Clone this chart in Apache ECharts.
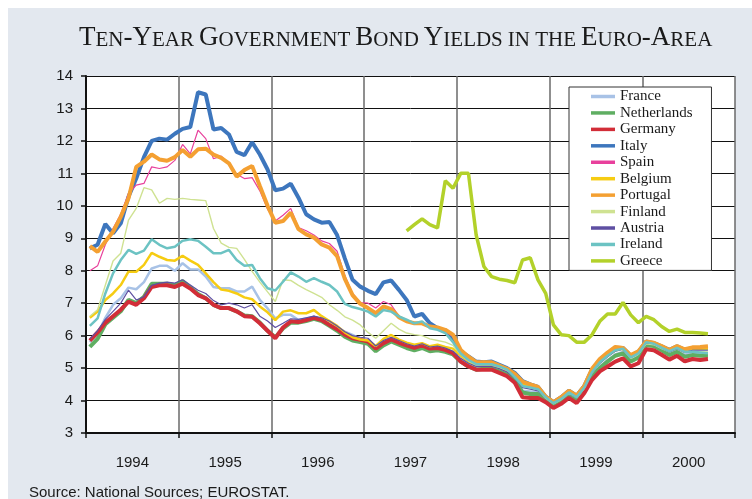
<!DOCTYPE html>
<html><head><meta charset="utf-8">
<script src="https://cdn.jsdelivr.net/npm/echarts@6/dist/echarts.min.js"></script>
<style>
html,body{margin:0;padding:0;background:#fff;}
#panel{position:absolute;left:8px;top:8px;width:744px;height:491px;background:#e3e8ef;}
#chart{position:absolute;left:0;top:0;width:752px;height:499px;}
</style></head><body>
<div id="panel"></div><div id="chart"></div>
<script>
// Monthly 10-year yields, Jan 1994 .. Sep 2000
const startYear = 1994;
const yearLabels = ['1994','1995','1996','1997','1998','1999','2000'];
const yTicks = [3,4,5,6,7,8,9,10,11,12,13,14];

const france = [
 5.80,6.05,6.55,6.95,7.15,7.48,7.43,7.65,8.07,8.15,8.15,8.00,
 8.23,8.04,8.04,7.82,7.50,7.46,7.46,7.36,7.36,7.51,7.10,6.84,
 6.53,6.64,6.64,6.48,6.53,6.58,6.50,6.38,6.26,6.12,6.02,5.90,
 5.85,5.60,5.80,5.92,5.82,5.72,5.65,5.72,5.62,5.65,5.60,5.50,
 5.25,5.10,5.00,5.02,5.02,4.95,4.85,4.65,4.30,4.28,4.25,4.05,
 3.88,4.00,4.18,4.05,4.35,4.80,5.05,5.25,5.42,5.50,5.25,5.38,
 5.72,5.70,5.58,5.45,5.55,5.42,5.45,5.42,5.42];
const netherlands = [
 5.65,5.90,6.35,6.55,6.75,7.10,7.00,7.20,7.60,7.60,7.60,7.55,
 7.68,7.48,7.28,7.15,6.95,6.85,6.85,6.75,6.62,6.60,6.40,6.15,
 5.95,6.22,6.40,6.40,6.45,6.52,6.45,6.30,6.15,5.97,5.85,5.80,
 5.75,5.52,5.70,5.82,5.72,5.62,5.55,5.62,5.52,5.55,5.50,5.42,
 5.20,5.05,4.95,4.98,4.98,4.90,4.80,4.62,4.25,4.20,4.20,4.02,
 3.85,3.98,4.15,4.00,4.30,4.75,5.00,5.20,5.38,5.45,5.20,5.33,
 5.70,5.68,5.55,5.40,5.50,5.35,5.40,5.38,5.38];
const germany = [
 5.85,6.10,6.40,6.60,6.80,7.05,6.95,7.15,7.50,7.55,7.55,7.50,
 7.60,7.45,7.25,7.15,6.95,6.85,6.85,6.75,6.60,6.58,6.38,6.15,
 5.92,6.25,6.44,6.42,6.48,6.55,6.48,6.33,6.20,6.03,5.92,5.87,
 5.82,5.60,5.77,5.88,5.78,5.70,5.62,5.70,5.60,5.62,5.56,5.46,
 5.20,5.05,4.95,4.95,4.95,4.85,4.75,4.55,4.10,4.08,4.08,3.95,
 3.77,3.90,4.08,3.92,4.23,4.64,4.90,5.05,5.20,5.30,5.05,5.15,
 5.58,5.55,5.41,5.26,5.38,5.21,5.28,5.25,5.28];
const italy = [
 8.69,8.80,9.44,9.15,9.46,10.28,10.84,11.50,12.00,12.07,12.04,12.22,
 12.37,12.43,13.50,13.43,12.35,12.40,12.20,11.66,11.56,11.96,11.58,11.12,
 10.48,10.53,10.68,10.25,9.74,9.58,9.48,9.50,9.10,8.38,7.72,7.51,
 7.38,7.28,7.64,7.70,7.41,7.10,6.59,6.67,6.38,6.23,6.13,5.87,
 5.51,5.36,5.20,5.18,5.20,5.10,5.00,4.85,4.60,4.50,4.42,4.12,
 3.95,4.10,4.30,4.15,4.45,4.95,5.25,5.45,5.63,5.62,5.38,5.50,
 5.82,5.77,5.67,5.56,5.67,5.56,5.62,5.62,5.63];
const spain = [
 8.00,8.15,8.80,9.30,9.75,10.38,10.64,10.69,11.20,11.15,11.20,11.40,
 11.89,11.60,12.33,12.07,11.45,11.53,11.31,10.97,10.84,10.87,10.46,9.90,
 9.53,9.71,9.92,9.33,9.23,9.10,8.92,8.84,8.60,7.85,7.30,7.02,
 7.00,6.85,7.05,6.95,6.60,6.47,6.38,6.38,6.28,6.22,6.12,5.97,
 5.55,5.32,5.15,5.15,5.15,5.05,4.95,4.78,4.55,4.48,4.40,4.10,
 3.93,4.07,4.27,4.12,4.42,4.92,5.22,5.42,5.60,5.60,5.36,5.48,
 5.80,5.76,5.66,5.55,5.65,5.55,5.60,5.60,5.62];
const belgium = [
 6.55,6.74,7.10,7.30,7.56,7.97,7.97,8.18,8.55,8.43,8.33,8.31,
 8.46,8.31,8.18,7.92,7.65,7.42,7.38,7.30,7.18,7.12,6.90,6.72,
 6.48,6.74,6.78,6.69,6.69,6.79,6.60,6.45,6.30,6.10,5.95,5.88,
 5.85,5.68,5.90,6.02,5.88,5.78,5.72,5.77,5.67,5.72,5.65,5.60,
 5.38,5.20,5.08,5.08,5.10,5.02,4.92,4.75,4.50,4.45,4.40,4.12,
 3.95,4.08,4.27,4.12,4.42,4.92,5.22,5.42,5.60,5.60,5.38,5.50,
 5.80,5.76,5.66,5.55,5.66,5.55,5.60,5.60,5.60];
const portugal = [
 8.76,8.58,8.90,9.20,9.66,10.23,11.20,11.36,11.58,11.43,11.39,11.50,
 11.72,11.51,11.74,11.76,11.58,11.48,11.31,10.90,11.10,11.23,10.61,10.00,
 9.48,9.53,9.79,9.28,9.12,9.02,8.81,8.71,8.45,7.75,7.25,6.98,
 6.85,6.69,6.90,6.82,6.57,6.44,6.38,6.38,6.28,6.25,6.18,6.03,
 5.56,5.35,5.18,5.18,5.18,5.08,4.98,4.82,4.58,4.50,4.42,4.12,
 3.95,4.10,4.30,4.15,4.45,4.98,5.28,5.48,5.65,5.62,5.40,5.52,
 5.82,5.78,5.68,5.56,5.68,5.58,5.64,5.65,5.67];
const finland = [
 6.60,6.80,7.55,8.30,8.54,9.56,9.92,10.56,10.49,10.08,10.23,10.20,
 10.23,10.20,10.18,10.16,9.30,8.85,8.72,8.69,8.35,7.98,7.65,7.35,
 7.05,7.72,7.70,7.55,7.42,7.30,7.18,6.95,6.78,6.58,6.48,6.33,
 6.10,5.92,6.15,6.38,6.20,6.08,6.03,6.00,5.90,5.85,5.80,5.70,
 5.42,5.22,5.08,5.10,5.10,5.02,4.92,4.72,4.45,4.40,4.35,4.08,
 3.90,4.03,4.22,4.08,4.38,4.85,5.15,5.35,5.52,5.58,5.30,5.42,
 5.75,5.72,5.60,5.50,5.60,5.48,5.52,5.50,5.50];
const austria = [
 5.90,6.15,6.50,6.75,7.00,7.40,7.10,7.20,7.55,7.62,7.65,7.62,
 7.72,7.56,7.40,7.30,7.08,6.95,7.00,6.95,6.85,6.95,6.60,6.45,
 6.25,6.38,6.52,6.50,6.55,6.60,6.55,6.45,6.30,6.12,6.00,5.95,
 5.92,5.68,5.85,5.95,5.85,5.75,5.68,5.75,5.65,5.68,5.62,5.52,
 5.30,5.15,5.05,5.05,5.05,4.98,4.88,4.70,4.40,4.35,4.30,4.10,
 3.92,4.05,4.22,4.08,4.38,4.85,5.15,5.35,5.52,5.58,5.32,5.45,
 5.78,5.75,5.62,5.50,5.60,5.48,5.55,5.55,5.55];
const ireland = [
 6.30,6.53,7.30,7.92,8.33,8.64,8.52,8.62,8.97,8.80,8.69,8.74,
 8.92,8.97,8.92,8.74,8.54,8.54,8.64,8.33,8.15,8.18,7.77,7.46,
 7.39,7.66,7.95,7.82,7.66,7.77,7.66,7.56,7.36,6.98,6.88,6.82,
 6.74,6.59,6.79,6.74,6.59,6.49,6.38,6.44,6.23,6.18,6.08,5.80,
 5.45,5.25,5.12,5.12,5.12,5.05,4.95,4.72,4.45,4.40,4.35,4.10,
 3.92,4.05,4.25,4.10,4.40,4.88,5.18,5.38,5.55,5.60,5.33,5.45,
 5.80,5.75,5.63,5.52,5.62,5.50,5.50,5.48,5.46];
// Greece starts in June 1997 (month index 41)
const greeceStartIndex = 41;
const greece = [
 9.23,9.42,9.60,9.42,9.32,10.77,10.54,
 11.00,11.00,9.10,8.13,7.82,7.74,7.70,7.63,8.33,8.40,7.72,7.30,
 6.33,6.03,6.00,5.80,5.80,6.03,6.44,6.67,6.67,7.02,6.64,6.40,
 6.59,6.49,6.28,6.13,6.20,6.10,6.10,6.08,6.06];

const seriesDefs = [
  {name:'France', data:france, color:'#a8c2e6', width:2.5, offset:0},
  {name:'Netherlands', data:netherlands, color:'#5fae62', width:4, offset:0},
  {name:'Germany', data:germany, color:'#d22d38', width:4, offset:0},
  {name:'Italy', data:italy, color:'#3d76bd', width:4, offset:0},
  {name:'Spain', data:spain, color:'#e8409c', width:1.2, offset:0},
  {name:'Belgium', data:belgium, color:'#f6cc12', width:2.5, offset:0},
  {name:'Portugal', data:portugal, color:'#f4a032', width:4, offset:0},
  {name:'Finland', data:finland, color:'#cfe292', width:1.4, offset:0},
  {name:'Austria', data:austria, color:'#5e4fa2', width:1.2, offset:0},
  {name:'Ireland', data:ireland, color:'#6cc3c3', width:2.5, offset:0},
  {name:'Greece', data:greece, color:'#b3d12a', width:3.5, offset:greeceStartIndex}
];

function toPoints(arr, offset){
  return arr.map((v,i)=>[startYear + (i+offset+0.5)/12, v]);
}

const chart = echarts.init(document.getElementById('chart'), null, {renderer:'canvas'});
const serifFont = 'Liberation Serif, Times New Roman, serif';
const sansFont = 'Liberation Sans, Arial, sans-serif';

chart.setOption({
  backgroundColor:'transparent',
  animation:false,
  title:[{
    text:'{a|T}{b|EN}{a|-Y}{b|EAR} {a|G}{b|OVERNMENT} {a|B}{b|OND} {a|Y}{b|IELDS} {b|IN THE} {a|E}{b|URO}{a|-A}{b|REA}',
    left:79, top:24, padding:0,
    textStyle:{
      fontWeight:'normal',
      rich:{
        a:{fontFamily:serifFont, fontSize:27, fontWeight:'normal', color:'#1a1a1a', verticalAlign:'bottom'},
        b:{fontFamily:serifFont, fontSize:21, fontWeight:'normal', color:'#1a1a1a', verticalAlign:'bottom'}
      }
    }
  },{
    text:'Source: National Sources; EUROSTAT.',
    left:24, top:480,
    textStyle:{fontFamily:sansFont, fontSize:15, fontWeight:'normal', color:'#1a1a1a'}
  }],
  grid:{left:86, right:17, top:76, bottom:66, show:true, backgroundColor:'#ffffff', borderWidth:0, containLabel:false},
  legend:{
    data:seriesDefs.map(s=>({name:s.name, icon:'rect'})),
    orient:'vertical', left:569, top:87,
    backgroundColor:'#ffffff', borderColor:'#333', borderWidth:1,
    padding:[2,19,2,22],
    itemWidth:24, itemHeight:3.5, itemGap:1.44,
    textStyle:{fontFamily:serifFont, fontSize:15, color:'#1a1a1a', lineHeight:15},
    selectedMode:false
  },
  xAxis:[{
    type:'value', min:1994, max:2001, interval:1,
    axisLine:{show:true, lineStyle:{color:'#111', width:2}},
    axisTick:{show:true, length:5, lineStyle:{color:'#111', width:1.5}},
    axisLabel:{show:false},
    splitLine:{show:true, lineStyle:{color:'#6a6a6a', width:1.5}}
  },{
    type:'category', data:yearLabels, position:'bottom', boundaryGap:true,
    axisLine:{show:false}, axisTick:{show:false}, splitLine:{show:false},
    axisLabel:{fontFamily:sansFont, fontSize:15, color:'#1a1a1a', margin:22}
  }],
  yAxis:{
    type:'value', min:yTicks[0], max:yTicks[yTicks.length-1], interval:1,
    axisLine:{show:true, lineStyle:{color:'#111', width:2}},
    axisTick:{show:true, length:5, lineStyle:{color:'#111', width:1.5}},
    axisLabel:{fontFamily:sansFont, fontSize:15, color:'#1a1a1a', margin:13},
    splitLine:{show:true, lineStyle:{color:'#111', width:1}}
  },
  series:seriesDefs.map(s=>({
    name:s.name, type:'line', xAxisIndex:0, yAxisIndex:0,
    data:toPoints(s.data, s.offset),
    symbol:'none', showSymbol:false,
    lineStyle:{color:s.color, width:s.width},
    itemStyle:{color:s.color},
    emphasis:{disabled:true}
  }))
});
</script>
</body></html>
